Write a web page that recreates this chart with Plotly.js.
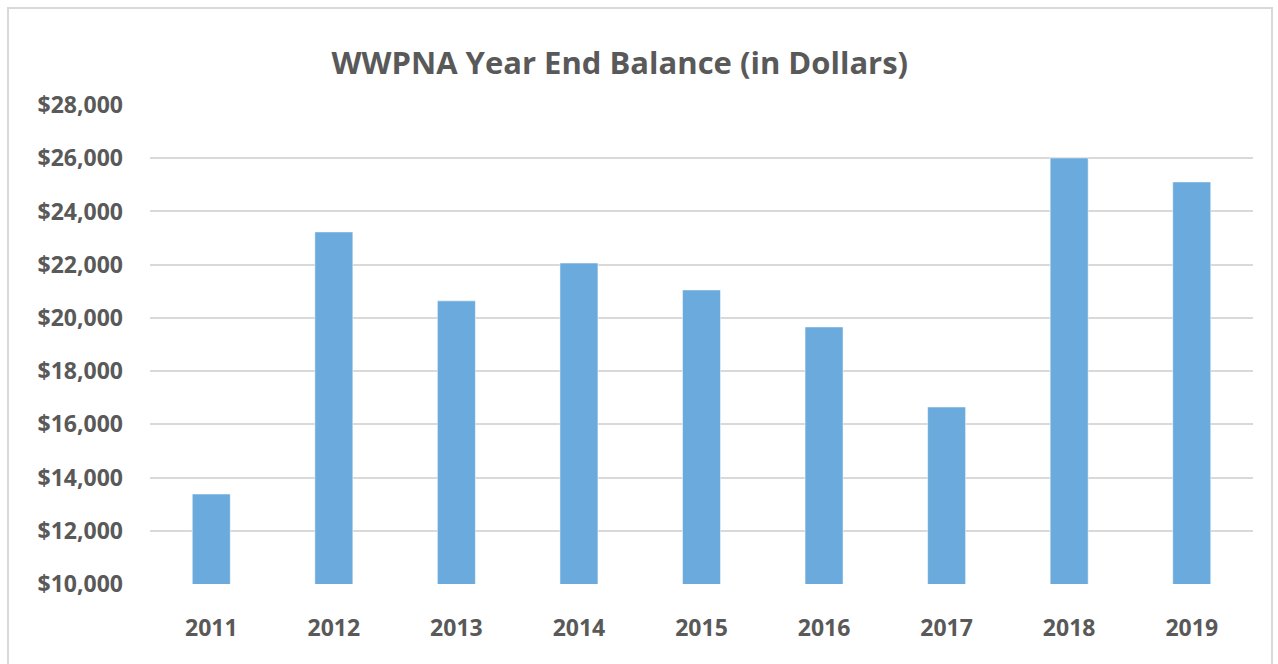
<!DOCTYPE html>
<html>
<head>
<meta charset="utf-8">
<script src="https://cdn.plot.ly/plotly-3.0.1.min.js"></script>
<style>
html,body{margin:0;padding:0;background:#fff;}
#wrap{position:absolute;left:0;top:0;width:1278px;height:664px;}
#frame{position:absolute;left:7px;top:7px;width:1266px;height:670px;border:2px solid #d9d9d9;box-sizing:border-box;pointer-events:none;}
#chart{position:absolute;left:0;top:0;width:1278px;height:664px;}
</style>
</head>
<body>
<div id="wrap">
<div id="chart"></div>
<div id="frame"></div>
</div>
<script>
const years = ["2011","2012","2013","2014","2015","2016","2017","2018","2019"];
const balances = [13380, 23230, 20640, 22060, 21050, 19660, 16650, 26010, 25110];
const yTicks = [10000, 12000, 14000, 16000, 18000, 20000, 22000, 24000, 26000, 28000];
const yTickLabels = ["$10,000","$12,000","$14,000","$16,000","$18,000","$20,000","$22,000","$24,000","$26,000","$28,000"];

const font = "Open Sans, Lato, sans-serif";
Plotly.newPlot("chart", [{
  type: "bar",
  x: years,
  y: balances,
  marker: {color: "#6baadc", line: {color: "#ffffff", width: 0.5}},
  hoverinfo: "x+y"
}], {
  width: 1278, height: 664,
  paper_bgcolor: "#ffffff", plot_bgcolor: "#ffffff",
  margin: {l: 150, r: 25, t: 105, b: 80},
  bargap: 0.69,
  showlegend: false,
  title: {text: "<b>WWPNA Year End Balance (in Dollars)</b>", x: 0.485, xanchor: "center", y: 0.905, yanchor: "middle",
          font: {family: font, size: 31, color: "#595959"}},
  xaxis: {type: "category", showgrid: false, zeroline: false, showline: false, ticks: "",
          ticklabelstandoff: 28,
          tickfont: {family: font, size: 23, color: "#595959", weight: "bold"}},
  yaxis: {range: [10000, 28000], tickvals: yTicks, ticktext: yTickLabels,
          showgrid: true, gridcolor: "#d9d9d9", gridwidth: 2, zeroline: false, showline: false, ticks: "",
          ticklabelstandoff: 26,
          tickfont: {family: font, size: 23, color: "#595959", weight: "bold"}}
}, {displayModeBar: false, staticPlot: true});
</script>
</body>
</html>
